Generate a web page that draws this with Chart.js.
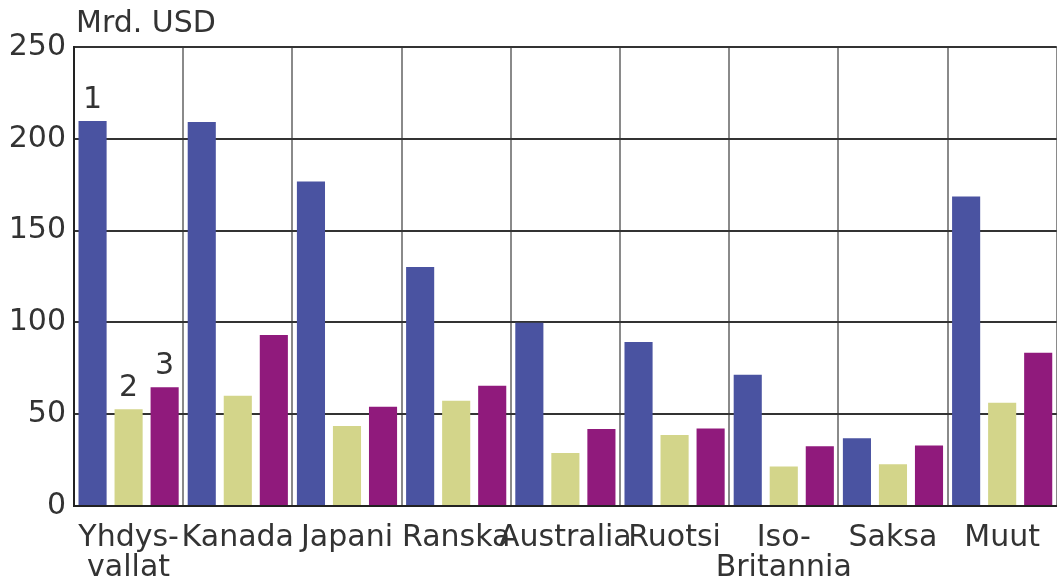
<!DOCTYPE html>
<html>
<head>
<meta charset="utf-8">
<script src="https://cdn.jsdelivr.net/npm/chart.js@4/dist/chart.umd.min.js"></script>
<style>
  html, body { margin: 0; padding: 0; background: #fff; }
  #wrap { width: 1057px; height: 583px; position: relative; }
</style>
</head>
<body>
<div id="wrap"><canvas id="chart"></canvas></div>
<script>
const countries = [
  ["Yhdys-", "vallat"], "Kanada", "Japani", "Ranska", "Australia",
  "Ruotsi", ["Iso-", "Britannia"], "Saksa", "Muut",
];
const series1 = [209.7, 209.1, 176.8, 130.2, 99.8, 89.3, 71.5, 36.9, 168.6];
const series2 = [52.7, 60.0, 43.6, 57.3, 28.9, 38.7, 21.5, 22.7, 56.2];
const series3 = [64.7, 93.1, 54.0, 65.5, 42.0, 42.2, 32.5, 32.9, 83.5];
const seriesNames = ["1", "2", "3"];
const yTicks = [0, 50, 100, 150, 200, 250];
const unitLabel = "Mrd. USD";

const textColor = "#333333";
const fontFamily = "'DejaVu Sans', sans-serif";

Chart.defaults.color = textColor;
Chart.defaults.font.family = fontFamily;

// numbers 1/2/3 above the first group and the unit label in the corner
const annotate = {
  id: "annotate",
  afterDatasetsDraw(chart) {
    const { ctx, chartArea } = chart;
    ctx.save();
    ctx.fillStyle = textColor;
    ctx.font = `30px ${fontFamily}`;
    ctx.textAlign = "center";
    ctx.textBaseline = "bottom";
    chart.data.datasets.forEach((ds, i) => {
      const bar = chart.getDatasetMeta(i).data[0];
      ctx.fillText(seriesNames[i], bar.x, bar.y - 6);
    });
    ctx.textAlign = "left";
    ctx.fillText(unitLabel, chartArea.left + 2, chartArea.top - 8);
    ctx.restore();
  },
};

new Chart(document.querySelector("#chart"), {
  type: "bar",
  data: {
    labels: countries,
    datasets: [
      { label: seriesNames[0], data: series1, backgroundColor: "#4a53a1" },
      { label: seriesNames[1], data: series2, backgroundColor: "#d3d58a" },
      { label: seriesNames[2], data: series3, backgroundColor: "#901a7c" },
    ],
  },
  options: {
    responsive: true,
    maintainAspectRatio: false,
    animation: false,
    categoryPercentage: 0.99,
    barPercentage: 0.78,
    layout: { padding: { top: 47, right: 0, left: 0, bottom: 0 } },
    plugins: {
      legend: { display: false },
      tooltip: { enabled: false },
    },
    scales: {
      x: {
        grid: { color: "#8a8a8a", lineWidth: 2, drawTicks: false },
        border: { color: "#222", width: 2 },
        ticks: {
          autoSkip: false,
          maxRotation: 0,
          padding: 17,
          color: textColor,
          font: { size: 30, lineHeight: 1.0 },
        },
        afterFit: (scale) => { scale.height = 77; },
      },
      y: {
        min: 0,
        max: 250,
        afterBuildTicks: (scale) => { scale.ticks = yTicks.map((value) => ({ value })); },
        grid: { color: "#333", lineWidth: 2, drawTicks: false },
        border: { color: "#222", width: 2 },
        ticks: {
          padding: 8,
          color: textColor,
          font: { size: 30 },
        },
        afterFit: (scale) => { scale.width = 74; },
      },
    },
  },
  plugins: [annotate],
});
</script>
</body>
</html>
